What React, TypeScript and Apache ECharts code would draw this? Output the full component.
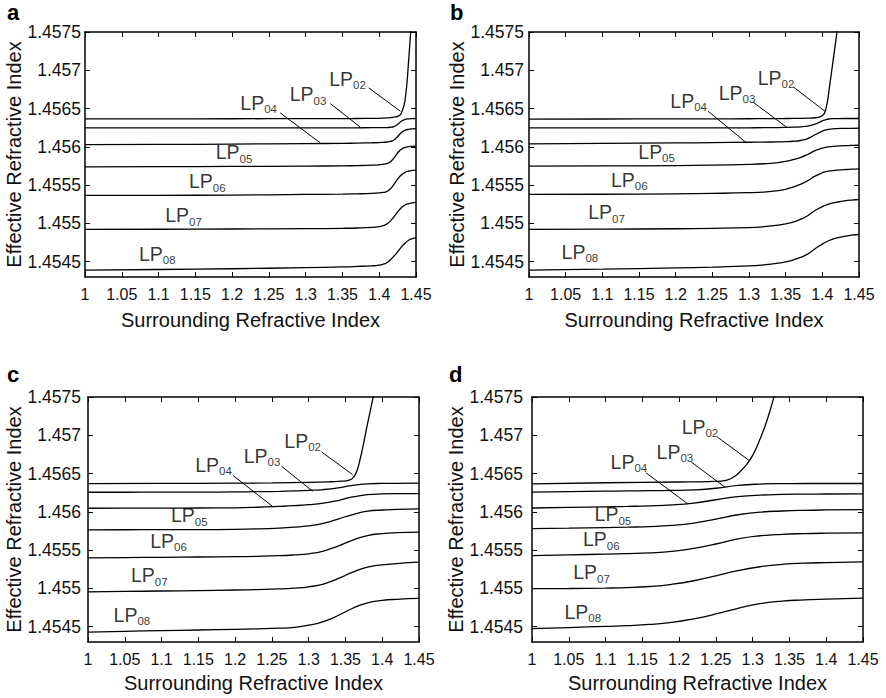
import React, { useEffect, useRef } from 'react';
import * as echarts from 'echarts';

const FONT = '"Liberation Sans", Arial, Helvetica, sans-serif';

// Y tick values shared by all four panels
const yTicks = [1.4545, 1.455, 1.4555, 1.456, 1.4565, 1.457, 1.4575];
const modes = ['02', '03', '04', '05', '06', '07', '08'];

// ---------- Panel a ----------
const xA = [1, 1.1, 1.2, 1.3, 1.35, 1.37, 1.39, 1.4, 1.405, 1.41, 1.415, 1.42, 1.425, 1.43, 1.435, 1.44, 1.445, 1.45];
const x02A = xA;
const a02 = [1.456365, 1.456366, 1.456367, 1.456368, 1.456369, 1.45637, 1.456372, 1.456373, 1.456375, 1.456378, 1.456382, 1.456388, 1.456398, 1.45644, 1.4566, 1.45713, 1.45785, 1.4587];
const a03 = [1.456247, 1.456247, 1.456248, 1.456248, 1.456249, 1.456249, 1.45625, 1.45625, 1.456251, 1.456252, 1.456256, 1.456265, 1.456292, 1.456335, 1.456358, 1.456366, 1.456369, 1.45637];
const a04 = [1.456028, 1.456031, 1.456036, 1.456042, 1.456046, 1.456049, 1.456053, 1.456056, 1.456059, 1.456063, 1.45607, 1.45609, 1.456135, 1.456185, 1.456215, 1.456229, 1.456235, 1.456238];
const a05 = [1.455739, 1.455741, 1.455744, 1.455748, 1.455752, 1.455755, 1.45576, 1.455766, 1.455772, 1.45578, 1.455802, 1.455855, 1.45592, 1.455968, 1.455992, 1.456002, 1.456007, 1.45601];
const a06 = [1.455365, 1.455367, 1.45537, 1.455378, 1.455382, 1.455386, 1.455392, 1.455398, 1.455404, 1.455416, 1.45545, 1.45551, 1.455578, 1.455632, 1.455667, 1.455683, 1.455692, 1.455697];
const a07 = [1.454922, 1.454924, 1.454927, 1.454931, 1.454936, 1.45494, 1.454948, 1.454958, 1.45497, 1.45499, 1.45503, 1.455085, 1.45515, 1.455205, 1.45524, 1.455258, 1.455268, 1.455275];
const a08 = [1.45439, 1.454398, 1.454408, 1.454422, 1.454432, 1.454438, 1.454446, 1.454455, 1.454466, 1.454485, 1.454522, 1.454572, 1.454628, 1.45469, 1.454742, 1.45478, 1.454802, 1.454815];
const labA_x = [1.3326, 1.279, 1.2119, 1.1783, 1.142, 1.1098, 1.074];
const labA_y = [1.4568, 1.456596, 1.456487, 1.455835, 1.455457, 1.455017, 1.454509];
const leadA = [[1.3857, 1.45677, 1.4288, 1.456465], [1.3335, 1.456565, 1.3743, 1.456257], [1.2654, 1.456443, 1.3199, 1.456052]];

// ---------- Panel b ----------
const xB = [1, 1.1, 1.2, 1.25, 1.3, 1.32, 1.34, 1.35, 1.36, 1.37, 1.38, 1.39, 1.4, 1.405, 1.41, 1.415, 1.42, 1.43, 1.44, 1.45];
const x02B = xB;
const b02 = [1.456363, 1.456364, 1.456365, 1.456366, 1.456367, 1.456368, 1.456369, 1.45637, 1.456371, 1.456372, 1.456374, 1.45638, 1.456405, 1.4565, 1.4568, 1.45715, 1.4575, 1.4582, 1.4589, 1.4596];
const b03 = [1.456248, 1.456248, 1.456248, 1.456248, 1.456249, 1.45625, 1.456252, 1.456254, 1.456257, 1.456262, 1.456271, 1.456298, 1.45634, 1.456357, 1.456365, 1.456368, 1.456369, 1.45637, 1.45637, 1.45637];
const b04 = [1.45604, 1.456045, 1.456051, 1.456055, 1.45606, 1.456062, 1.456065, 1.456068, 1.456073, 1.456083, 1.456108, 1.456158, 1.456205, 1.456222, 1.456231, 1.456236, 1.456239, 1.456241, 1.456242, 1.456243];
const b05 = [1.455748, 1.455751, 1.455755, 1.455761, 1.455771, 1.455779, 1.455795, 1.455809, 1.455832, 1.45586, 1.4559, 1.45595, 1.455983, 1.455995, 1.456002, 1.456007, 1.45601, 1.456015, 1.456018, 1.456021];
const b06 = [1.455378, 1.455381, 1.455386, 1.455392, 1.455401, 1.455409, 1.455428, 1.455446, 1.455475, 1.45551, 1.455558, 1.455617, 1.455662, 1.455676, 1.455685, 1.455691, 1.455695, 1.455702, 1.455708, 1.455712];
const b07 = [1.454922, 1.454925, 1.45493, 1.454936, 1.454946, 1.454957, 1.454977, 1.454994, 1.455017, 1.455052, 1.4551, 1.455168, 1.45522, 1.45524, 1.455256, 1.455268, 1.455278, 1.455294, 1.455305, 1.455312];
const b08 = [1.45439, 1.454402, 1.454418, 1.454428, 1.454444, 1.454458, 1.45448, 1.454497, 1.454522, 1.454555, 1.454598, 1.454668, 1.45473, 1.454757, 1.45478, 1.454798, 1.454812, 1.454832, 1.454847, 1.454855];
const labB_x = [1.3126, 1.2593, 1.1934, 1.1497, 1.1124, 1.0814, 1.0451];
const labB_y = [1.456813, 1.456617, 1.456509, 1.455843, 1.455478, 1.455052, 1.454539];
const leadB = [[1.3603, 1.456783, 1.4036, 1.456465], [1.3057, 1.456583, 1.3512, 1.456257], [1.2443, 1.456465, 1.2966, 1.456052]];

// ---------- Panel c ----------
const xC = [1, 1.05, 1.1, 1.15, 1.2, 1.23, 1.26, 1.28, 1.3, 1.32, 1.34, 1.36, 1.38, 1.4, 1.42, 1.45];
const x02C = [1, 1.1, 1.2, 1.25, 1.3, 1.33, 1.345, 1.355, 1.36, 1.365, 1.37, 1.375, 1.38, 1.39, 1.4, 1.42];
const c02 = [1.456369, 1.456371, 1.456375, 1.456378, 1.456385, 1.456393, 1.4564, 1.456415, 1.45644, 1.45652, 1.45669, 1.45691, 1.45715, 1.4576, 1.45805, 1.45895];
const c03 = [1.456256, 1.456256, 1.456257, 1.456258, 1.45626, 1.456263, 1.456268, 1.456273, 1.45628, 1.456291, 1.456313, 1.456347, 1.456366, 1.456371, 1.456373, 1.456374];
const c04 = [1.456047, 1.456048, 1.456049, 1.45605, 1.456053, 1.45606, 1.456071, 1.45608, 1.456093, 1.456113, 1.456148, 1.456195, 1.456224, 1.456234, 1.456238, 1.456239];
const c05 = [1.455765, 1.455766, 1.455767, 1.455768, 1.455771, 1.455777, 1.455788, 1.4558, 1.455818, 1.45585, 1.455906, 1.455965, 1.456008, 1.456024, 1.456031, 1.456039];
const c06 = [1.4554, 1.455403, 1.455406, 1.45541, 1.455414, 1.455419, 1.455427, 1.455437, 1.455452, 1.455488, 1.455553, 1.455632, 1.45569, 1.455716, 1.455728, 1.455735];
const c07 = [1.454954, 1.45496, 1.454966, 1.454972, 1.454979, 1.454985, 1.454993, 1.455003, 1.455021, 1.455056, 1.455128, 1.455212, 1.455279, 1.455308, 1.455325, 1.455342];
const c08 = [1.45443, 1.45444, 1.454449, 1.454457, 1.454466, 1.454472, 1.45448, 1.454491, 1.454519, 1.454566, 1.454646, 1.454741, 1.454812, 1.454844, 1.454858, 1.454869];
const labC_x = [1.2676, 1.2123, 1.1465, 1.1134, 1.0853, 1.059, 1.0354];
const labC_y = [1.456835, 1.456639, 1.456522, 1.455865, 1.45553, 1.455083, 1.454565];
const leadC = [[1.3175, 1.456783, 1.3597, 1.456487], [1.2631, 1.456596, 1.3053, 1.45627], [1.1973, 1.456474, 1.2518, 1.456065]];

// ---------- Panel d ----------
const xD = [1, 1.05, 1.1, 1.13, 1.16, 1.19, 1.22, 1.25, 1.28, 1.31, 1.34, 1.37, 1.4, 1.45];
const x02D = [1, 1.1, 1.2, 1.24, 1.26, 1.27, 1.28, 1.29, 1.3, 1.31, 1.32, 1.33, 1.34, 1.36];
const d02 = [1.456366, 1.45638, 1.45639, 1.456396, 1.456405, 1.456432, 1.456497, 1.456598, 1.456737, 1.45695, 1.45721, 1.45754, 1.45795, 1.4588];
const d03 = [1.456258, 1.456264, 1.45627, 1.456273, 1.456276, 1.45628, 1.456287, 1.456308, 1.456345, 1.456363, 1.456369, 1.45637, 1.45637, 1.45637];
const d04 = [1.45605, 1.456058, 1.456066, 1.456071, 1.456078, 1.45609, 1.456115, 1.456158, 1.456198, 1.456219, 1.456227, 1.456231, 1.456233, 1.456235];
const d05 = [1.455782, 1.455788, 1.455795, 1.4558, 1.455807, 1.455822, 1.455853, 1.455905, 1.455962, 1.455996, 1.456011, 1.45602, 1.456025, 1.45603];
const d06 = [1.455428, 1.455438, 1.455448, 1.455455, 1.455464, 1.455483, 1.455524, 1.45558, 1.455648, 1.455688, 1.455707, 1.455716, 1.455721, 1.455726];
const d07 = [1.454996, 1.454999, 1.455004, 1.45501, 1.455025, 1.455054, 1.4551, 1.455164, 1.455233, 1.455283, 1.455314, 1.455329, 1.455337, 1.455347];
const d08 = [1.454474, 1.454489, 1.454505, 1.454514, 1.454529, 1.454556, 1.454603, 1.454666, 1.45474, 1.4548, 1.454834, 1.454849, 1.454859, 1.454874];
const labD_x = [1.2041, 1.1701, 1.1075, 1.0857, 1.0699, 1.0567, 1.0449];
const labD_y = [1.457022, 1.456696, 1.456565, 1.455878, 1.455552, 1.455117, 1.454604];
const leadD = [[1.2518, 1.456978, 1.2949, 1.456674], [1.2164, 1.456652, 1.2618, 1.456326], [1.1551, 1.456509, 1.2118, 1.456104]];

const panels = [
  { x: xA, x02: x02A, ys: [a02, a03, a04, a05, a06, a07, a08], lx: labA_x, ly: labA_y, leads: leadA },
  { x: xB, x02: x02B, ys: [b02, b03, b04, b05, b06, b07, b08], lx: labB_x, ly: labB_y, leads: leadB },
  { x: xC, x02: x02C, ys: [c02, c03, c04, c05, c06, c07, c08], lx: labC_x, ly: labC_y, leads: leadC },
  { x: xD, x02: x02D, ys: [d02, d03, d04, d05, d06, d07, d08], lx: labD_x, ly: labD_y, leads: leadD },
];

// layout
const gridBoxes = [
  { left: 85, top: 32, width: 331, height: 245 },
  { left: 529, top: 32, width: 330, height: 245 },
  { left: 88, top: 397, width: 331, height: 245 },
  { left: 532, top: 397, width: 331, height: 245 },
];
const letters = ['a', 'b', 'c', 'd'];
const letterPos = [[7, 12.5], [450, 12.5], [7, 374], [449, 374]];
const yLabelMargin = [4, 5, 7, 9];
const yNameGap = [61, 62, 64, 65];
const xNameGap = [33, 33, 31, 31];

const TXT = '#000';

export default function App() {
  const ref = useRef<HTMLDivElement>(null);
  useEffect(() => {
    const chart = echarts.init(ref.current as HTMLDivElement, null, { renderer: 'svg' });
    const xAxis: any[] = [];
    const yAxis: any[] = [];
    const series: any[] = [];
    const frameLine = { show: true, onZero: false, lineStyle: { color: '#000', width: 1.5 } };
    const tick = { show: true, inside: true, length: 5, lineStyle: { color: '#000', width: 1 } };

    panels.forEach((p, i) => {
      const baseX = {
        type: 'value', gridIndex: i, min: 1, max: 1.45, interval: 0.05,
        axisLine: frameLine, axisTick: tick, splitLine: { show: false },
      };
      xAxis.push({
        ...baseX, position: 'bottom',
        axisLabel: {
          show: true, margin: 9, fontSize: 16, color: '#111', fontFamily: FONT,
          showMinLabel: true, showMaxLabel: true,
          formatter: (v: number) => String(+(+v).toFixed(2)),
        },
        name: 'Surrounding Refractive Index', nameLocation: 'middle', nameGap: xNameGap[i],
        nameTextStyle: { fontSize: 20, color: '#111', fontFamily: FONT },
      });
      xAxis.push({ ...baseX, position: 'top', axisLabel: { show: false } });
      const baseY = {
        type: 'value', gridIndex: i, min: 1.4543, max: 1.4575,
        axisLine: frameLine,
        axisTick: { ...tick, customValues: yTicks },
        splitLine: { show: false },
      };
      yAxis.push({
        ...baseY, position: 'left',
        axisLabel: {
          show: true, margin: yLabelMargin[i], fontSize: 17.5, color: '#111', fontFamily: FONT,
          customValues: yTicks,
          formatter: (v: number) => String(+(+v).toFixed(4)),
        },
        name: 'Effective Refractive Index', nameLocation: 'middle', nameGap: yNameGap[i],
        nameTextStyle: { fontSize: 20, color: '#111', fontFamily: FONT },
      });
      yAxis.push({ ...baseY, position: 'right', axisLabel: { show: false } });

      const xi = 2 * i;
      const yi = 2 * i;
      p.ys.forEach((ys, m) => {
        const xs = m === 0 ? p.x02 : p.x;
        series.push({
          type: 'line', name: `LP${modes[m]}-${letters[i]}`, xAxisIndex: xi, yAxisIndex: yi,
          data: xs.map((xv, k) => [xv, ys[k]]),
          showSymbol: false, symbol: 'none', smooth: 0.5, clip: true,
          lineStyle: { color: '#000', width: 1.3 }, silent: true,
        });
      });
      p.leads.forEach((l) => {
        series.push({
          type: 'line', xAxisIndex: xi, yAxisIndex: yi,
          data: [[l[0], l[1]], [l[2], l[3]]],
          showSymbol: false, symbol: 'none', lineStyle: { color: '#000', width: 1 }, silent: true,
        });
      });
      series.push({
        type: 'scatter', xAxisIndex: xi, yAxisIndex: yi, symbolSize: 1,
        itemStyle: { color: 'rgba(0,0,0,0)' }, silent: true,
        data: p.lx.map((xv, k) => ({ value: [xv, p.ly[k]], name: modes[k] })),
        label: {
          show: true, position: [0, 0], align: 'left', verticalAlign: 'bottom', offset: [0, 6],
          color: TXT, textBorderWidth: 0, fontSize: 19, fontFamily: FONT,
          formatter: (pp: any) => `{m|LP}{s|${pp.name}}`,
          rich: {
            m: { fontSize: 19.5, lineHeight: 25, verticalAlign: 'middle', color: TXT, fontFamily: FONT, textBorderWidth: 0 },
            s: { fontSize: 11.5, verticalAlign: 'bottom', color: TXT, fontFamily: FONT, textBorderWidth: 0 },
          },
        },
      });
    });

    chart.setOption({
      animation: false,
      backgroundColor: '#fff',
      grid: gridBoxes.map((g) => ({ ...g, containLabel: false })),
      xAxis,
      yAxis,
      series,
      graphic: letters.map((t, i) => ({
        type: 'text', x: letterPos[i][0], y: letterPos[i][1],
        style: { text: t, font: `bold 22px ${FONT}`, fill: '#000', verticalAlign: 'middle' },
      })),
    });
    return () => chart.dispose();
  }, []);
  return <div ref={ref} style={{ position: 'absolute', left: 0, top: 0, width: 886, height: 698, background: '#fff' }} />;
}
